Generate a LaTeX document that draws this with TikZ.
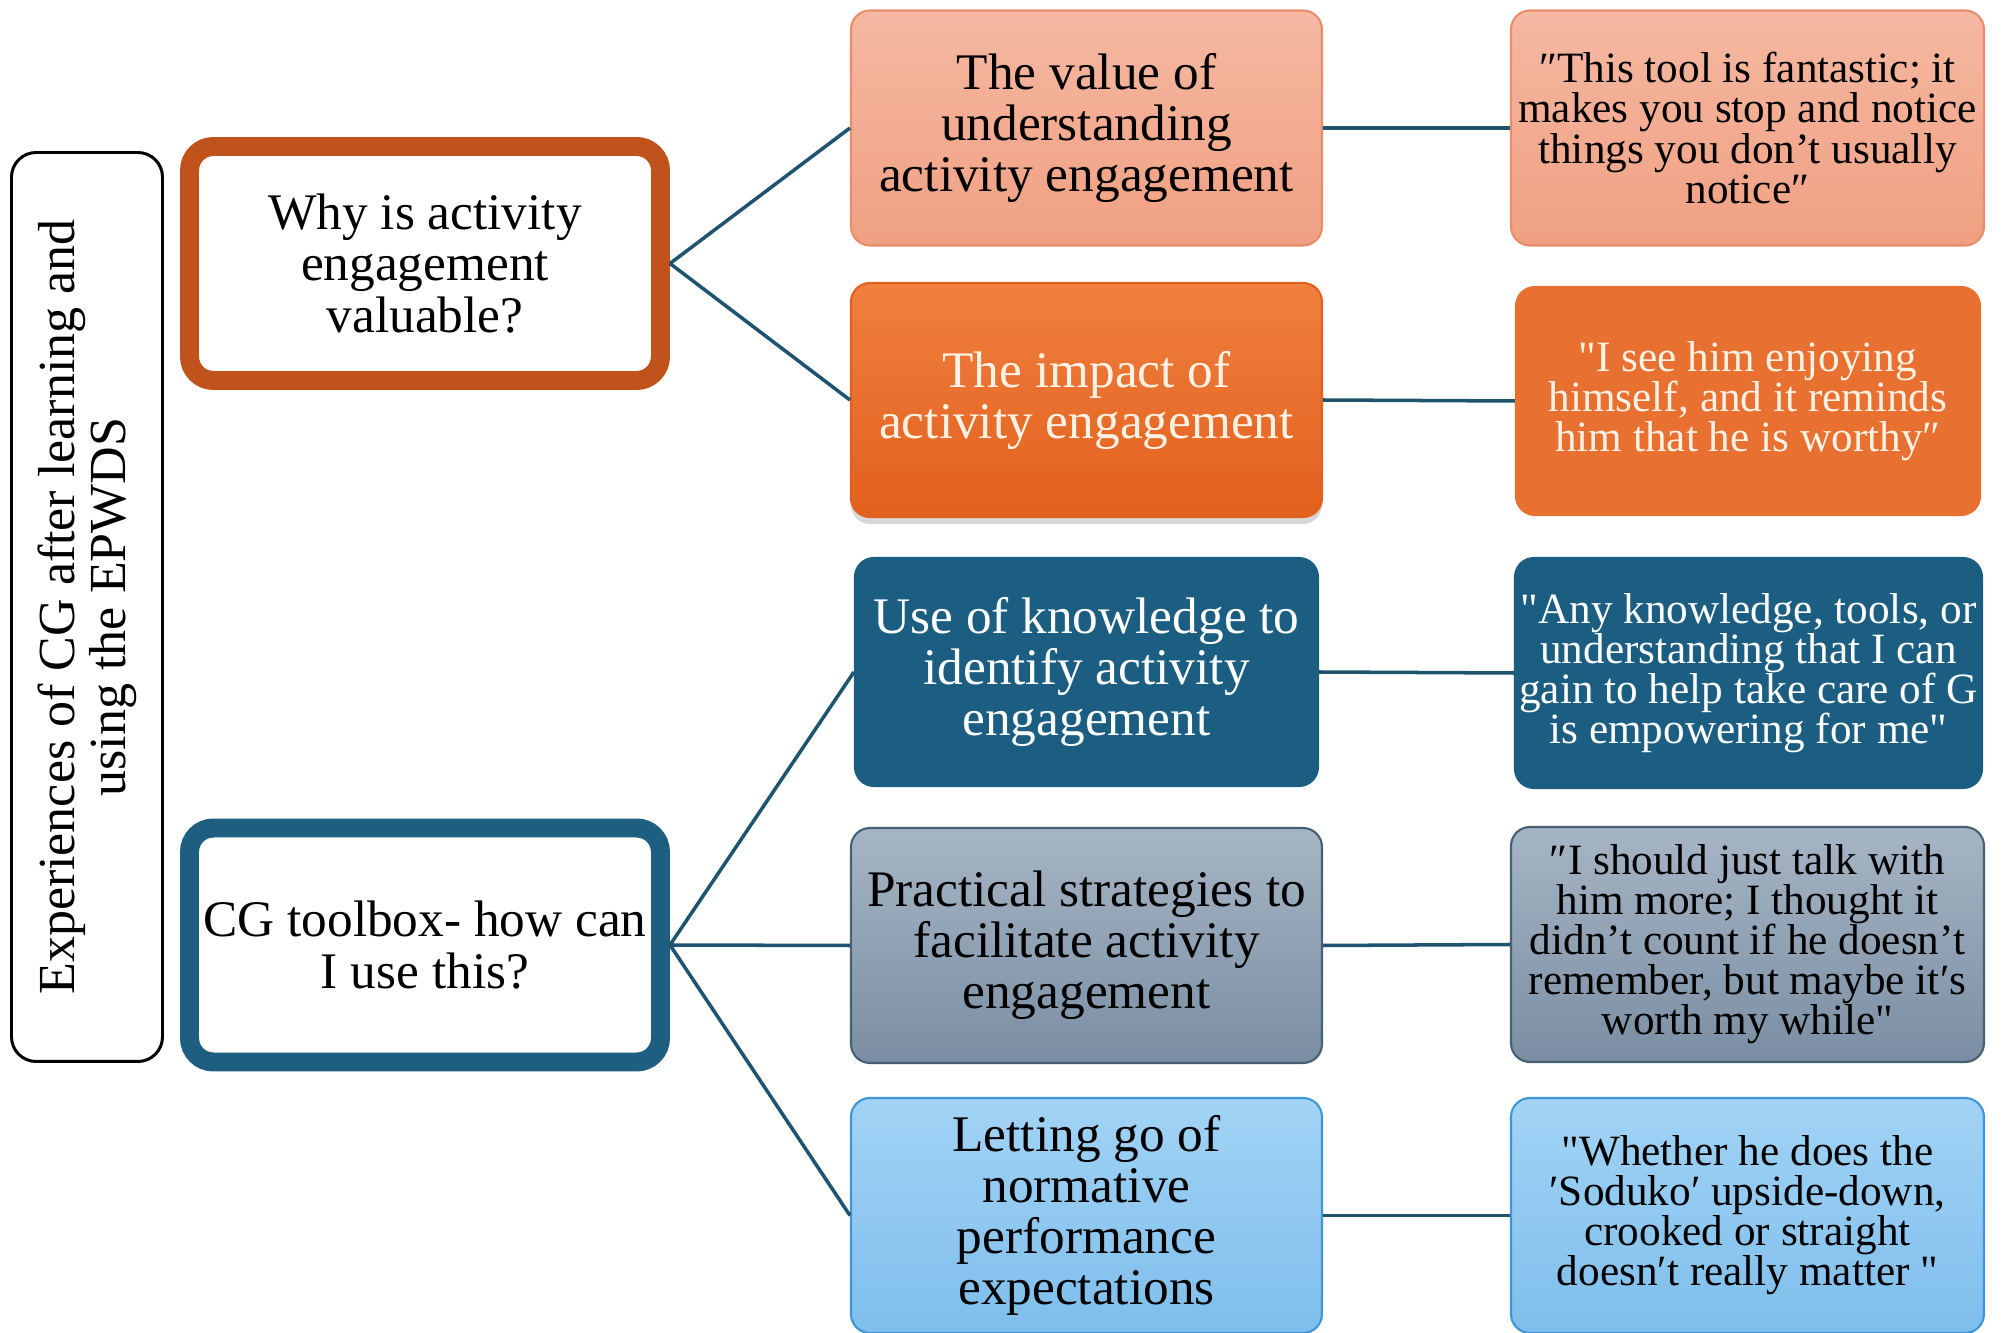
\documentclass[tikz,border=0pt]{standalone}
\usepackage{fontspec}
\setmainfont{Liberation Serif}[Ligatures=TeXOff]
\usetikzlibrary{shadows}
\newcommand\sq{\char"22\relax}
\definecolor{lineblue}{RGB}{30,84,112}
\definecolor{whyorange}{RGB}{192,82,28}
\definecolor{cgblue}{RGB}{30,94,128}
\definecolor{salmontop}{RGB}{245,184,162}
\definecolor{salmonbot}{RGB}{240,160,130}
\definecolor{salmonline}{RGB}{232,140,108}
\definecolor{orangetop}{RGB}{240,128,62}
\definecolor{orangebot}{RGB}{226,96,30}
\definecolor{orangeflat}{RGB}{232,112,48}
\definecolor{cream}{RGB}{255,242,228}
\definecolor{darkblue}{RGB}{28,94,130}
\definecolor{graytop}{RGB}{166,181,197}
\definecolor{graybot}{RGB}{122,142,163}
\definecolor{grayline}{RGB}{72,96,116}
\definecolor{skytop}{RGB}{162,211,245}
\definecolor{skybot}{RGB}{126,190,236}
\definecolor{skyline}{RGB}{62,150,214}
\tikzset{
  conn/.style={draw=lineblue, line width=1pt},
  sidebox/.style={draw=black, line width=0.85pt, rounded corners=7pt, minimum width=9.09cm, minimum height=1.51cm, align=center, inner sep=0pt, font=\fontsize{14.8}{14.6}\selectfont},
  qbox/.style={fill=white, line width=5.4pt, rounded corners=6.8pt, minimum width=4.71cm, minimum height=2.34cm, align=center, inner sep=0pt, font=\fontsize{14.6}{14.6}\selectfont},
  midbox/.style={rounded corners=5.4pt, minimum width=4.71cm, minimum height=2.35cm, align=center, inner sep=0pt, line width=0.6pt, font=\fontsize{14.6}{14.5}\selectfont},
  rbox/.style={rounded corners=5.4pt, minimum width=4.73cm, minimum height=2.35cm, align=center, inner sep=0pt, line width=0.6pt, font=\fontsize{12.3}{11.4}\selectfont},
  salmon/.style={draw=salmonline, top color=salmontop, bottom color=salmonbot, text=black},
  orangeA/.style={draw=orangebot, top color=orangetop, bottom color=orangebot, text=cream},
  orangeB/.style={draw=orangeflat, fill=orangeflat, text=cream},
  navy/.style={draw=darkblue, fill=darkblue, text=white},
  slate/.style={draw=grayline, top color=graytop, bottom color=graybot, text=black},
  sky/.style={draw=skyline, top color=skytop, bottom color=skybot, text=black}
}
\begin{document}
\begin{tikzpicture}[x=0.1mm, y=-0.1mm]
\useasboundingbox (0,0) rectangle (2003,1333);
\fill[white] (0,0) rectangle (2003,1333);

% left vertical box
\node[sidebox, rotate=90] (side) at (87,607) {Experiences of CG after learning and\\using the EPWDS};

% question boxes
\node[qbox, draw=whyorange] (why) at (425,263.5) {Why is activity\\engagement\\valuable?};
\node[qbox, draw=cgblue] (cg) at (425,945) {CG toolbox- how can\\I use this?};

% middle column
\node[midbox, salmon] (m1) at (1086.5,128) {The value of\\understanding\\activity engagement};
\node[midbox, orangeA, minimum height=2.34cm, drop shadow={opacity=0.3, shadow xshift=0pt, shadow yshift=-0.7mm}] (m2) at (1086.5,400) {The impact of\\activity engagement};
\node[midbox, navy, minimum width=4.63cm, minimum height=2.28cm] (m3) at (1086.5,672) {Use of knowledge to\\identify activity\\engagement};
\node[midbox, slate] (m4) at (1086.5,945.5) {Practical strategies to\\facilitate activity\\engagement};
\node[midbox, sky] (m5) at (1086.5,1215.5) {Letting go of\\normative\\performance\\expectations};

% right column
\node[rbox, salmon] (r1) at (1747.5,128) {″This tool is fantastic; it\\makes you stop and notice\\things you don’t usually\\notice″};
\node[rbox, orangeB, minimum width=4.64cm, minimum height=2.28cm] (r2) at (1748,401) {\sq I see him enjoying\\himself, and it reminds\\him that he is worthy″};
\node[rbox, navy, minimum width=4.67cm, minimum height=2.30cm] (r3) at (1748.5,673) {\sq Any knowledge, tools, or\\understanding that I can\\gain to help take care of G\\is empowering for me\sq};
\node[rbox, slate] (r4) at (1747.5,944.5) {″I should just talk with\\him more; I thought it\\didn’t count if he doesn’t\\remember, but maybe it′s\\worth my while\sq};
\node[rbox, sky] (r5) at (1747.5,1215.5) {\sq Whether he does the\\′Soduko′ upside-down,\\crooked or straight\\doesn′t really matter \sq};

% connectors
\draw[conn] (why.east) -- (m1.west);
\draw[conn] (why.east) -- (m2.west);
\draw[conn] (cg.east) -- (m3.west);
\draw[conn] (cg.east) -- (m4.west);
\draw[conn] (cg.east) -- (m5.west);
\draw[conn] (m1.east) -- (r1.west);
\draw[conn] (m2.east) -- (r2.west);
\draw[conn] (m3.east) -- (r3.west);
\draw[conn] (m4.east) -- (r4.west);
\draw[conn] (m5.east) -- (r5.west);
\end{tikzpicture}
\end{document}
